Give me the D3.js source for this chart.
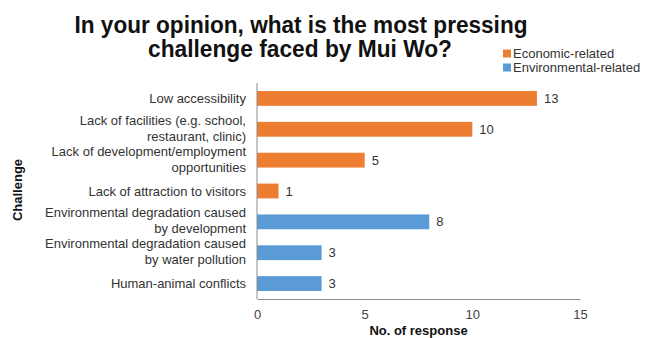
<!DOCTYPE html>
<html lang="en">
<head>
    <meta charset="UTF-8">
    <title>Most pressing challenge faced by Mui Wo</title>
    <script src="https://d3js.org/d3.v7.min.js"></script>
    <style>
        body { margin: 0; background: #fff; }
        svg { font-family: "Liberation Sans", Arial, sans-serif; }
    </style>
</head>
<body>
    <div id="chart"></div>
    <script>
        // data
        const categories = [
            "Low accessibility",
            "Lack of facilities (e.g. school,\nrestaurant, clinic)",
            "Lack of development/employment\nopportunities",
            "Lack of attraction to visitors",
            "Environmental degradation caused\nby development",
            "Environmental degradation caused\nby water pollution",
            "Human-animal conflicts"
        ];
        const responses = [13, 10, 5, 1, 8, 3, 3];
        const groups = ["Economic-related", "Economic-related", "Economic-related", "Economic-related",
            "Environmental-related", "Environmental-related", "Environmental-related"];
        const legendItems = ["Economic-related", "Environmental-related"];
        const xTicks = [0, 5, 10, 15];

        const width = 646, height = 338;
        const margin = { top: 83, right: 66, bottom: 39, left: 257 };

        const color = d3.scaleOrdinal()
            .domain(legendItems)
            .range(["#ed7d31", "#5b9bd5"]);

        const svg = d3.select("#chart").append("svg")
            .attr("width", width)
            .attr("height", height);

        const x = d3.scaleLinear()
            .domain([0, 15])
            .range([margin.left, width - margin.right]);

        const y = d3.scaleBand()
            .domain(categories)
            .range([margin.top, height - margin.bottom])
            .paddingInner(0.52)
            .paddingOuter(0.26);

        // title
        const title = svg.append("text")
            .attr("text-anchor", "middle")
            .attr("font-weight", "bold")
            .attr("font-size", 23)
            .attr("fill", "#111");
        title.append("tspan").attr("x", 301).attr("y", 33)
            .attr("textLength", 453).attr("lengthAdjust", "spacingAndGlyphs")
            .text("In your opinion, what is the most pressing");
        title.append("tspan").attr("x", 300).attr("y", 57)
            .attr("textLength", 304).attr("lengthAdjust", "spacingAndGlyphs")
            .text("challenge faced by Mui Wo?");

        // legend
        const legend = svg.append("g")
            .selectAll("g")
            .data(legendItems)
            .join("g")
            .attr("transform", (d, i) => `translate(503,${49.5 + i * 14})`);
        legend.append("rect")
            .attr("width", 8).attr("height", 8)
            .attr("fill", d => color(d));
        legend.append("text")
            .attr("x", 10).attr("y", 8)
            .attr("font-size", 13)
            .attr("fill", "#333")
            .text(d => d);

        // bars
        svg.append("g")
            .selectAll("rect")
            .data(categories)
            .join("rect")
            .attr("x", x(0))
            .attr("y", d => y(d))
            .attr("height", y.bandwidth())
            .attr("width", (d, i) => x(responses[i]) - x(0))
            .attr("fill", (d, i) => color(groups[i]));

        // value labels
        svg.append("g")
            .selectAll("text")
            .data(categories)
            .join("text")
            .attr("x", (d, i) => x(responses[i]) + 7)
            .attr("y", d => y(d) + y.bandwidth() / 2)
            .attr("dy", "0.35em")
            .attr("font-size", 13)
            .attr("fill", "#333")
            .text((d, i) => responses[i]);

        // category labels (wrapped by hand as in the picture)
        const catLabels = svg.append("g")
            .selectAll("text")
            .data(categories)
            .join("text")
            .attr("text-anchor", "end")
            .attr("font-size", 13)
            .attr("fill", "#333");
        catLabels.each(function (d) {
            const lines = d.split("\n");
            const cy = y(d) + y.bandwidth() / 2;
            const lh = 16;
            const t = d3.select(this);
            lines.forEach((line, k) => {
                t.append("tspan")
                    .attr("x", 246)
                    .attr("y", cy + (k - (lines.length - 1) / 2) * lh - (lines.length > 1 ? 1 : 0))
                    .attr("dy", "0.35em")
                    .text(line);
            });
        });

        // axes
        const axisColor = "#8c8c8c";
        svg.append("line")
            .attr("x1", x(0)).attr("x2", x(0))
            .attr("y1", margin.top).attr("y2", height - margin.bottom)
            .attr("stroke", axisColor);

        const xAxis = svg.append("g")
            .attr("transform", `translate(0,${height - margin.bottom})`)
            .call(d3.axisBottom(x).tickValues(xTicks).tickSize(0).tickPadding(11));
        xAxis.select(".domain").attr("stroke", axisColor);
        xAxis.selectAll("text")
            .attr("font-size", 13)
            .attr("font-family", "Liberation Sans, Arial, sans-serif")
            .attr("fill", "#444");

        svg.append("text")
            .attr("x", (x(0) + x(15)) / 2)
            .attr("y", 335)
            .attr("text-anchor", "middle")
            .attr("font-weight", "bold")
            .attr("font-size", 13)
            .attr("fill", "#111")
            .text("No. of response");

        svg.append("text")
            .attr("transform", "translate(22,190) rotate(-90)")
            .attr("text-anchor", "middle")
            .attr("font-weight", "bold")
            .attr("font-size", 13)
            .attr("fill", "#111")
            .text("Challenge");
    </script>
</body>
</html>
